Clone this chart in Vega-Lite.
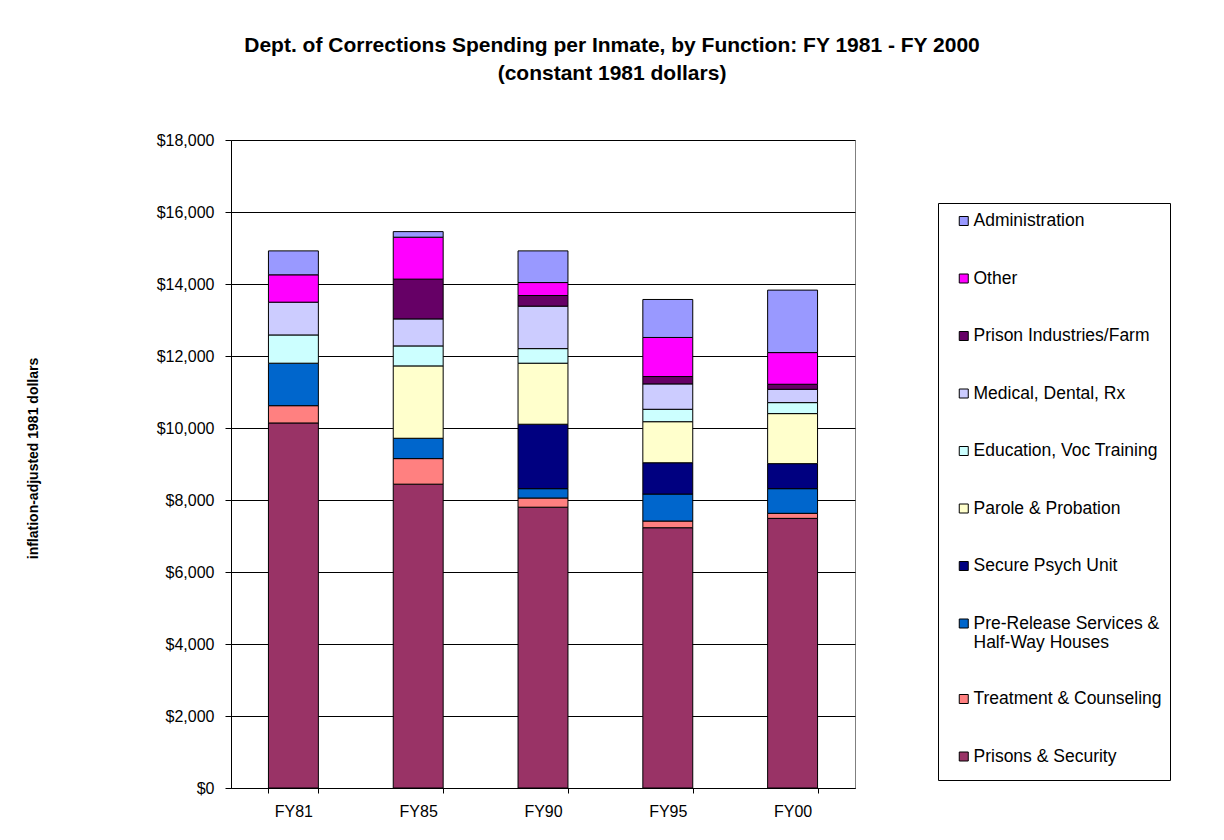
{
  "$schema": "https://vega.github.io/schema/vega-lite/v6.json",
  "width": 624,
  "height": 648,
  "autosize": "none",
  "padding": {"left": 231, "top": 140, "right": 369, "bottom": 52},
  "background": "white",
  "title": {
    "text": ["Dept. of Corrections Spending per Inmate, by Function: FY 1981 - FY 2000", "(constant 1981 dollars)"],
    "fontSize": 21,
    "fontWeight": "bold",
    "font": "Liberation Sans",
    "color": "black",
    "anchor": "middle",
    "dx": 69,
    "offset": 48,
    "lineHeight": 28
  },
  "data": {
    "values": [
      {"fy": "FY81", "func": "Prisons & Security", "v": 10140},
      {"fy": "FY81", "func": "Treatment & Counseling", "v": 480},
      {"fy": "FY81", "func": "Pre-Release Services & Half-Way Houses", "v": 1180},
      {"fy": "FY81", "func": "Education, Voc Training", "v": 785},
      {"fy": "FY81", "func": "Medical, Dental, Rx", "v": 910},
      {"fy": "FY81", "func": "Other", "v": 760},
      {"fy": "FY81", "func": "Administration", "v": 665},
      {"fy": "FY85", "func": "Prisons & Security", "v": 8440},
      {"fy": "FY85", "func": "Treatment & Counseling", "v": 710},
      {"fy": "FY85", "func": "Pre-Release Services & Half-Way Houses", "v": 565},
      {"fy": "FY85", "func": "Parole & Probation", "v": 2010},
      {"fy": "FY85", "func": "Education, Voc Training", "v": 555},
      {"fy": "FY85", "func": "Medical, Dental, Rx", "v": 750},
      {"fy": "FY85", "func": "Prison Industries/Farm", "v": 1105},
      {"fy": "FY85", "func": "Other", "v": 1165},
      {"fy": "FY85", "func": "Administration", "v": 155},
      {"fy": "FY90", "func": "Prisons & Security", "v": 7800},
      {"fy": "FY90", "func": "Treatment & Counseling", "v": 255},
      {"fy": "FY90", "func": "Pre-Release Services & Half-Way Houses", "v": 260},
      {"fy": "FY90", "func": "Secure Psych Unit", "v": 1790},
      {"fy": "FY90", "func": "Parole & Probation", "v": 1695},
      {"fy": "FY90", "func": "Education, Voc Training", "v": 405},
      {"fy": "FY90", "func": "Medical, Dental, Rx", "v": 1180},
      {"fy": "FY90", "func": "Prison Industries/Farm", "v": 295},
      {"fy": "FY90", "func": "Other", "v": 360},
      {"fy": "FY90", "func": "Administration", "v": 880},
      {"fy": "FY95", "func": "Prisons & Security", "v": 7230},
      {"fy": "FY95", "func": "Treatment & Counseling", "v": 185},
      {"fy": "FY95", "func": "Pre-Release Services & Half-Way Houses", "v": 750},
      {"fy": "FY95", "func": "Secure Psych Unit", "v": 870},
      {"fy": "FY95", "func": "Parole & Probation", "v": 1140},
      {"fy": "FY95", "func": "Education, Voc Training", "v": 345},
      {"fy": "FY95", "func": "Medical, Dental, Rx", "v": 705},
      {"fy": "FY95", "func": "Prison Industries/Farm", "v": 205},
      {"fy": "FY95", "func": "Other", "v": 1085},
      {"fy": "FY95", "func": "Administration", "v": 1055},
      {"fy": "FY00", "func": "Prisons & Security", "v": 7490},
      {"fy": "FY00", "func": "Treatment & Counseling", "v": 140},
      {"fy": "FY00", "func": "Pre-Release Services & Half-Way Houses", "v": 685},
      {"fy": "FY00", "func": "Secure Psych Unit", "v": 695},
      {"fy": "FY00", "func": "Parole & Probation", "v": 1390},
      {"fy": "FY00", "func": "Education, Voc Training", "v": 305},
      {"fy": "FY00", "func": "Medical, Dental, Rx", "v": 370},
      {"fy": "FY00", "func": "Prison Industries/Farm", "v": 140},
      {"fy": "FY00", "func": "Other", "v": 880},
      {"fy": "FY00", "func": "Administration", "v": 1735}
    ]
  },
  "transform": [
    {"calculate": "indexof(['Administration', 'Other', 'Prison Industries/Farm', 'Medical, Dental, Rx', 'Education, Voc Training', 'Parole & Probation', 'Secure Psych Unit', 'Pre-Release Services & Half-Way Houses', 'Treatment & Counseling', 'Prisons & Security'], datum.func)", "as": "stackRank"}
  ],
  "mark": {"type": "bar", "stroke": "black", "strokeWidth": 1},
  "encoding": {
    "x": {
      "field": "fy",
      "type": "nominal",
      "sort": ["FY81", "FY85", "FY90", "FY95", "FY00"],
      "scale": {"paddingInner": 0.6, "paddingOuter": 0.3},
      "axis": {
        "title": null,
        "labelAngle": 0,
        "labelFontSize": 16,
        "labelColor": "black",
        "labelPadding": 10,
        "domainColor": "black",
        "tickColor": "black",
        "tickSize": 5,
        "tickBand": "extent",
        "grid": false
      }
    },
    "y": {
      "field": "v",
      "type": "quantitative",
      "stack": "zero",
      "scale": {"domain": [0, 18000], "nice": false},
      "axis": {
        "title": "inflation-adjusted 1981 dollars",
        "titleFontSize": 14,
        "titleFontWeight": "bold",
        "titleColor": "black",
        "titleAngle": -90,
        "titleX": -198,
        "titleY": 318,
        "titleAlign": "center",
        "titleBaseline": "middle",
        "values": [0, 2000, 4000, 6000, 8000, 10000, 12000, 14000, 16000, 18000],
        "format": "$,.0f",
        "labelFontSize": 16,
        "labelColor": "black",
        "labelPadding": 11,
        "tickSize": 6,
        "tickColor": "black",
        "domainColor": "black",
        "grid": true,
        "gridColor": "black",
        "gridWidth": 1
      }
    },
    "order": {"field": "stackRank", "type": "quantitative", "sort": "descending"},
    "color": {
      "field": "func",
      "type": "nominal",
      "scale": {
        "domain": ["Administration", "Other", "Prison Industries/Farm", "Medical, Dental, Rx", "Education, Voc Training", "Parole & Probation", "Secure Psych Unit", "Pre-Release Services & Half-Way Houses", "Treatment & Counseling", "Prisons & Security"],
        "range": ["#9999FF", "#FF00FF", "#660066", "#CCCCFF", "#CCFFFF", "#FFFFCC", "#000080", "#0066CC", "#FF8080", "#993366"]
      },
      "legend": {
        "title": " ",
        "titleOrient": "bottom",
        "titleFontSize": 5,
        "titlePadding": 0,
        "orient": "none",
        "legendX": 707,
        "legendY": 63,
        "padding": 8,
        "strokeColor": "black",
        "fillColor": "white",
        "symbolType": "square",
        "symbolSize": 81,
        "symbolStrokeColor": "black",
        "symbolStrokeWidth": 1,
        "symbolOffset": 9,
        "labelOffset": 1,
        "labelFontSize": 17.5,
        "labelColor": "black",
        "labelLimit": 300,
        "clipHeight": 20,
        "rowPadding": 37.5,
        "labelExpr": "datum.label == 'Pre-Release Services & Half-Way Houses' ? ['Pre-Release Services &', 'Half-Way Houses'] : datum.label"
      }
    }
  },
  "config": {
    "font": "Liberation Sans",
    "view": {"stroke": "#808080", "strokeWidth": 1}
  }
}
